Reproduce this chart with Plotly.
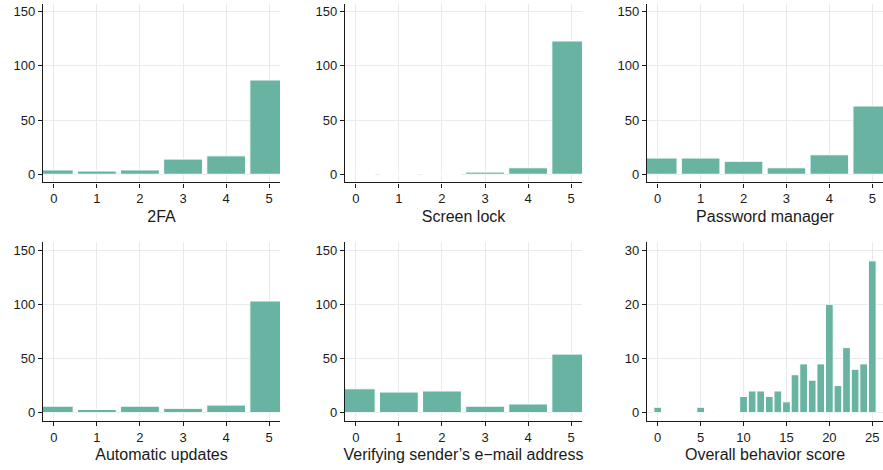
import plotly.graph_objects as go

levels = [0, 1, 2, 3, 4, 5]
twofa = [4, 3, 4, 14, 17, 87]
screen_lock = [0, 0, 0, 2, 6, 123]
password_manager = [15, 15, 12, 6, 18, 63]
automatic_updates = [6, 3, 6, 4, 7, 103]
verifying_sender = [22, 19, 20, 6, 8, 54]

score_levels = list(range(0, 26))
score_counts = [1, 0, 0, 0, 0, 1, 0, 0, 0, 0, 3, 4, 4, 3, 4, 2, 7, 9, 6, 9, 20, 5, 12, 8, 9, 28]

titles = ["2FA", "Screen lock", "Password manager",
          "Automatic updates", "Verifying sender\u2019s e\u2212mail address", "Overall behavior score"]

W, H = 883, 470
BAR = "#69B3A2"
GRID = "#E8EBEE"
FONT = "Liberation Sans, Arial, sans-serif"

xpx = [(43, 280), (345, 582), (647, 883)]
ypx = [(3.6, 182.4), (241.9, 420.8)]

panels = [
    (levels, twofa, 0, 0),
    (levels, screen_lock, 0, 1),
    (levels, password_manager, 0, 2),
    (levels, automatic_updates, 1, 0),
    (levels, verifying_sender, 1, 1),
    (score_levels, score_counts, 1, 2),
]

fig = go.Figure()
layout = dict(
    width=W, height=H, margin=dict(l=0, r=0, t=0, b=0),
    paper_bgcolor="white", plot_bgcolor="white",
    showlegend=False, bargap=0.1,
    font=dict(family=FONT, color="#1a1a1a"),
)

for i, (xs, ys, r, c) in enumerate(panels):
    n = "" if i == 0 else str(i + 1)
    fig.add_trace(go.Bar(
        x=xs, y=ys, width=0.9,
        marker=dict(color=BAR, line=dict(color="white", width=1)),
        xaxis="x" + n, yaxis="y" + n, hoverinfo="x+y",
    ))
    x0, x1 = xpx[c]
    y0, y1 = ypx[r]
    is_score = (i == 5)
    xmax = 25 if is_score else 5
    ymax = 30 if is_score else 150
    xtick = 5 if is_score else 1
    ytick = 10 if is_score else 50
    layout["xaxis" + n] = dict(
        domain=[x0 / W, x1 / W], anchor="y" + n,
        range=[-0.05 * xmax, 1.05 * xmax],
        tickmode="linear", tick0=0, dtick=xtick,
        showgrid=True, gridcolor=GRID, gridwidth=1.2, zeroline=False,
        showline=True, linecolor="#1a1a1a", linewidth=1.2,
        ticks="outside", ticklen=4, tickcolor="#1a1a1a", tickwidth=1,
        tickfont=dict(size=13, family=FONT, color="#1a1a1a"),
        title=dict(text=titles[i], font=dict(size=16, family=FONT, color="#1a1a1a"), standoff=5),
        fixedrange=True,
    )
    layout["yaxis" + n] = dict(
        domain=[1 - y1 / H, 1 - y0 / H], anchor="x" + n,
        range=[-0.05 * ymax, 1.05 * ymax],
        tickmode="linear", tick0=0, dtick=ytick,
        showgrid=True, gridcolor=GRID, gridwidth=1.2, zeroline=False,
        showline=True, linecolor="#1a1a1a", linewidth=1.2,
        ticks="outside", ticklen=4, tickcolor="#1a1a1a", tickwidth=1,
        tickfont=dict(size=13, family=FONT, color="#1a1a1a"),
        fixedrange=True,
    )

fig.update_layout(**layout)
fig.write_html("out.html", config={"displayModeBar": False})
